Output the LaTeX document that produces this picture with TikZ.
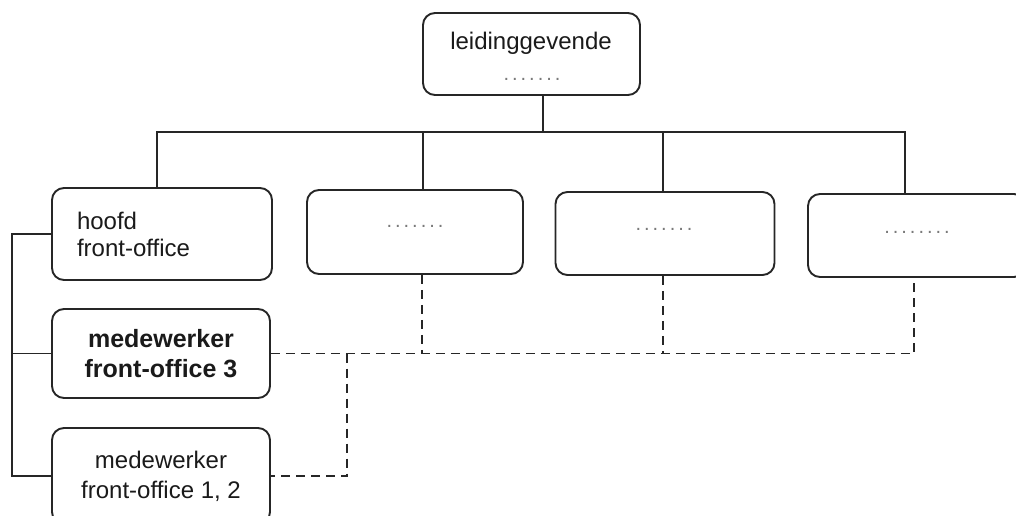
\documentclass[tikz,border=0pt]{standalone}
\usepackage{fontspec}
\setmainfont{Liberation Sans}
\definecolor{linec}{HTML}{262626}
\definecolor{textc}{HTML}{1A1A1A}
\definecolor{dotc}{HTML}{7A7A7A}
\newcommand\dd{.\kern3pt}
\begin{document}
\begin{tikzpicture}[x=1pt,y=-1pt,
  box/.style={draw=linec, line width=1.9pt, rounded corners=12pt, inner sep=0pt, fill=white},
  txt/.style={font=\fontsize{24}{30}\selectfont, text=textc},
  btxt/.style={font=\fontsize{25}{30}\selectfont\bfseries, text=textc},
  conn/.style={draw=linec, line width=1.3pt},
  dconn/.style={draw=linec, line width=1.5pt, dash pattern=on 9pt off 6pt},
  dotsty/.style={font=\fontsize{20}{24}\selectfont, text=dotc, inner sep=0pt}]
\useasboundingbox (0,0) rectangle (1016,515);

% boxes
\node[box, minimum width=217pt, minimum height=82pt] (top) at (531.5,54) {};
\node[txt, inner sep=0pt] (toptext) at (531,43) {leidinggevende};
\node[dotsty] (topdots) at (532,79) {\dd\dd\dd\dd\dd\dd.};

\node[box, txt, font=\fontsize{24}{27}\selectfont, minimum width=220pt, minimum height=92pt,
      align=left, text width=170pt] (b1) at (162,234) {hoofd\\front-office};
\node[box, minimum width=216pt, minimum height=84pt] (b2) at (415,232) {};
\node[dotsty] (b2dots) at (415,226.5) {\dd\dd\dd\dd\dd\dd.};
\node[box, minimum width=219pt, minimum height=83pt] (b3) at (665,233.5) {};
\node[dotsty] (b3dots) at (664,229) {\dd\dd\dd\dd\dd\dd.};
\node[box, minimum width=218pt, minimum height=83pt] (b4) at (917,235.5) {};
\node[dotsty] (b4dots) at (917,232) {\dd\dd\dd\dd\dd\dd\dd.};

\node[box, btxt, minimum width=218pt, minimum height=89pt, align=center] (mfo3) at (161,353.5)
      {medewerker\\front-office 3};
\node[box, txt, minimum width=218pt, minimum height=96pt, align=center] (mfo12) at (161,476)
      {medewerker\\front-office 1, 2};

% solid tree
\coordinate (topx) at (543,132);
\coordinate (bus1) at (157,132);
\coordinate (bus2) at (423,132);
\coordinate (bus3) at (663,132);
\coordinate (bus4) at (905,132);
\draw[conn] (top.south -| topx) -- (topx);
\draw[conn] (b1.north -| bus1) -- (bus1) -- (bus4) -- (b4.north -| bus4);
\draw[conn] (bus2) -- (b2.north -| bus2);
\draw[conn] (bus3) -- (b3.north -| bus3);

% left bracket
\coordinate (lx) at (12,300);
\draw[conn] (b1.west) -- (b1.west -| lx) -- (mfo12.west -| lx) -- (mfo12.west);
\draw[conn] (mfo3.west) -- (mfo3.west -| lx);

% dashed links
\coordinate (dj) at (347,353);
\coordinate (d2) at (422,353);
\coordinate (d3) at (663,353);
\coordinate (d4) at (914,353);
\draw[dconn] (mfo3.east) -- (mfo3.east -| d4) -- (b4.south -| d4);
\draw[dconn] (b2.south -| d2) -- (d2 |- mfo3.east);
\draw[dconn] (b3.south -| d3) -- (d3 |- mfo3.east);
\draw[dconn] (dj |- mfo3.east) -- (dj |- mfo12.east) -- (mfo12.east);
\end{tikzpicture}
\end{document}
